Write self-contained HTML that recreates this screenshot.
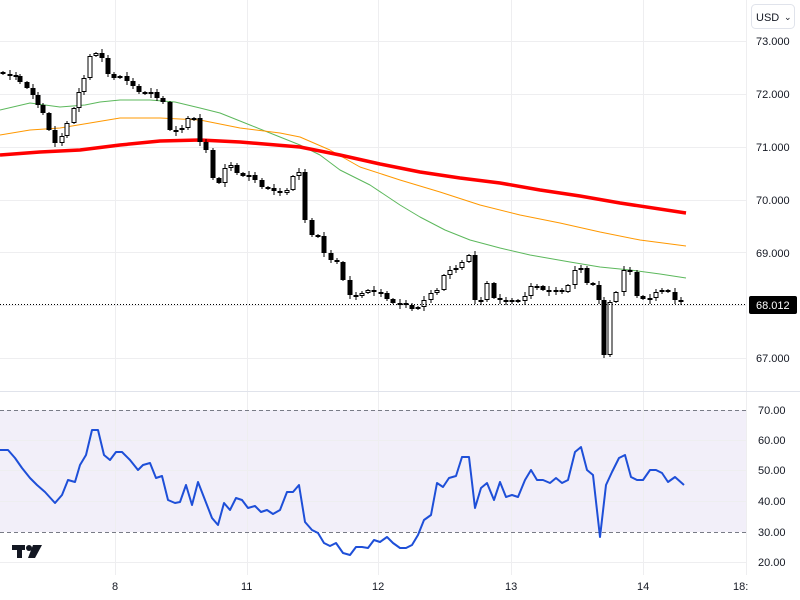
<!DOCTYPE html>
<html><head><meta charset="utf-8"><style>
html,body{margin:0;padding:0;background:#fff;width:800px;height:600px;overflow:hidden;font-family:"Liberation Sans",sans-serif}
svg text{font-family:"Liberation Sans",sans-serif;font-size:11px;fill:#131722}
</style></head><body>
<svg id="s" width="800" height="600" xmlns="http://www.w3.org/2000/svg">
<rect x="0" y="410" width="746" height="122" fill="#f2eff9"/>
<g stroke="#eeeef0" stroke-width="1">
<line x1="0" y1="41.5" x2="746" y2="41.5"/><line x1="0" y1="94.5" x2="746" y2="94.5"/><line x1="0" y1="147.5" x2="746" y2="147.5"/><line x1="0" y1="200.5" x2="746" y2="200.5"/><line x1="0" y1="252.5" x2="746" y2="252.5"/><line x1="0" y1="305.5" x2="746" y2="305.5"/><line x1="0" y1="358.5" x2="746" y2="358.5"/>
<line x1="0" y1="440.5" x2="746" y2="440.5"/><line x1="0" y1="470.5" x2="746" y2="470.5"/><line x1="0" y1="501.5" x2="746" y2="501.5"/><line x1="0" y1="562.5" x2="746" y2="562.5"/>
<line x1="115.5" y1="0" x2="115.5" y2="575"/><line x1="247.5" y1="0" x2="247.5" y2="575"/><line x1="378.5" y1="0" x2="378.5" y2="575"/><line x1="511.5" y1="0" x2="511.5" y2="575"/><line x1="643.5" y1="0" x2="643.5" y2="575"/><line x1="746.5" y1="0" x2="746.5" y2="575"/>
</g>
<line x1="0" y1="391.5" x2="800" y2="391.5" stroke="#e0e3eb" stroke-width="1"/>
<line x1="0" y1="410.5" x2="746" y2="410.5" stroke="#787b86" stroke-dasharray="4,3"/>
<line x1="0" y1="532.5" x2="746" y2="532.5" stroke="#787b86" stroke-dasharray="4,3"/>
<g id="ma"></g><g id="c"></g>
<line x1="0" y1="304.5" x2="746" y2="304.5" stroke="#000" stroke-dasharray="1,2"/>
<polyline id="rsi" fill="none" stroke="#1e4fd8" stroke-width="2" stroke-linejoin="round"/>
<g>
<text x="756" y="45">73.000</text><text x="756" y="98">72.000</text><text x="756" y="151">71.000</text><text x="756" y="204">70.000</text><text x="756" y="257">69.000</text><text x="756" y="362">67.000</text>
<rect x="749" y="296" width="48" height="18" rx="2" fill="#000"/><text x="756" y="309" style="fill:#fff">68.012</text>
<text x="758" y="414">70.00</text><text x="758" y="444">60.00</text><text x="758" y="474">50.00</text><text x="758" y="505">40.00</text><text x="758" y="536">30.00</text><text x="758" y="566">20.00</text>
<text x="112" y="590">8</text><text x="241" y="590">11</text><text x="372" y="590">12</text><text x="505" y="590">13</text><text x="637" y="590">14</text><text x="733" y="590">18:</text>
<rect x="751.5" y="4.5" width="43" height="24" rx="4" fill="#fff" stroke="#e0e3eb"/>
<text x="756" y="21">USD</text><text x="784" y="20" style="font-size:9px">⌄</text>
</g>
<g fill="#131722"><rect x="12" y="545" width="13" height="5"/><rect x="17" y="545" width="5" height="13"/><circle cx="29" cy="548" r="3"/><polygon points="33,545 42,545 35,558 28,558"/></g>
</svg>
<script>
var NS="http://www.w3.org/2000/svg";
function el(p,t,a){var e=document.createElementNS(NS,t);for(var k in a)e.setAttribute(k,a[k]);p.appendChild(e);return e;}
var cl=[[3,74],[10,75],[16,76],[20,82],[27,88],[33,95],[38,105],[43,113],[49,130],[55,143],[62,136],[67,123],[74,108],[79,92],[84,78],[90,56],[96,53],[102,58],[108,74],[114,78],[120,76],[127,81],[133,86],[139,92],[145,93],[151,92],[157,98],[163,102],[170,130],[176,130],[182,128],[188,118],[194,118],[200,142],[206,150],[213,178],[219,183],[225,168],[231,165],[237,173],[243,176],[249,175],[255,180],[262,187],[268,188],[274,191],[280,193],[287,190],[293,176],[299,172],[305,220],[312,235],[318,236],[324,253],[331,260],[337,262],[343,280],[350,295],[356,296],[362,293],[368,290],[374,292],[381,293],[387,299],[393,303],[400,303],[406,305],[412,309],[418,307],[424,300],[431,293],[437,290],[444,275],[450,270],[456,268],[462,262],[469,255],[475,300],[481,300],[487,283],[494,298],[500,300],[506,301],[512,300],[518,301],[525,296],[531,286],[537,286],[543,290],[549,291],[556,290],[562,292],[568,285],[575,270],[581,268],[587,283],[593,285],[599,300],[604,355],[610,302],[616,292],[624,270],[630,272],[637,296],[643,299],[650,298],[656,292],[662,290],[668,292],[675,300],[681,301]];
var g=document.getElementById('c');var prev=72;
cl.forEach(function(c,i){var o=prev,cc=c[1];prev=cc;var t=Math.min(o,cc),b=Math.max(o,cc);if(b-t<2)b=t+2;
var hi=t-1-(i*7%4),lo=b+1+(i*3%4);
el(g,'line',{x1:c[0],x2:c[0],y1:hi,y2:lo,stroke:'#000','stroke-width':1});
if(cc>o)el(g,'rect',{x:c[0]-2.5,y:t,width:5,height:b-t,fill:'#000'});
else el(g,'rect',{x:c[0]-2,y:t+0.5,width:4,height:b-t-1,fill:'#fff',stroke:'#000','stroke-width':1});});
var ma=document.getElementById('ma');
function pl(pts,col,w){el(ma,'polyline',{points:pts.map(function(p){return p.join(',')}).join(' '),fill:'none',stroke:col,'stroke-width':w,'stroke-linejoin':'round'});}
pl([[0,110],[30,103],[60,107],[85,105],[100,102],[120,100],[150,100],[175,102],[200,108],[220,113],[250,125],[280,137],[300,145],[320,155],[340,170],[370,185],[400,205],[420,217],[445,230],[470,240],[500,248],[530,255],[570,262],[600,267],[630,270],[660,274],[686,278]],'#5cb85c',1);
pl([[0,135],[30,130],[60,128],[90,123],[120,118],[160,118],[200,120],[240,128],[280,133],[300,137],[330,150],[360,167],[400,180],[440,192],[480,205],[520,215],[560,223],[600,232],[640,240],[686,246]],'#ff9800',1);
pl([[0,155],[40,152],[80,150],[120,145],[160,141],[200,140],[240,142],[300,147],[340,155],[380,164],[420,172],[460,178],[500,183],[540,190],[580,196],[620,203],[686,213]],'#f00',3.5);
var r=[[0,450],[8,450],[15,458],[22,468],[30,478],[37,485],[45,492],[55,503],[62,495],[68,480],[75,482],[80,465],[86,455],[92,430],[98,430],[104,455],[110,460],[116,452],[122,452],[130,460],[138,470],[143,465],[150,463],[156,478],[162,476],[168,500],[175,503],[180,502],[186,485],[192,505],[198,482],[205,500],[212,518],[218,525],[224,503],[230,510],[236,498],[242,500],[248,508],[255,506],[261,512],[267,510],[273,514],[280,510],[287,492],[293,492],[299,485],[305,522],[312,530],[318,533],[324,543],[330,546],[336,543],[343,553],[350,555],[356,547],[362,547],[368,548],[374,540],[380,542],[387,537],[393,543],[400,548],[406,548],[412,545],[418,535],[424,520],[431,515],[437,483],[443,487],[449,478],[456,476],[462,457],[469,457],[475,508],[481,488],[487,483],[494,500],[500,482],[506,497],[512,495],[518,497],[525,480],[531,470],[537,480],[543,480],[550,483],[556,478],[562,483],[568,480],[575,452],[581,447],[587,470],[593,475],[600,537],[606,485],[612,472],[619,458],[625,455],[631,477],[637,480],[643,480],[650,470],[656,470],[662,473],[668,482],[675,477],[684,485]];
document.getElementById('rsi').setAttribute('points',r.map(function(p){return p.join(',')}).join(' '));
</script>
</body></html>
